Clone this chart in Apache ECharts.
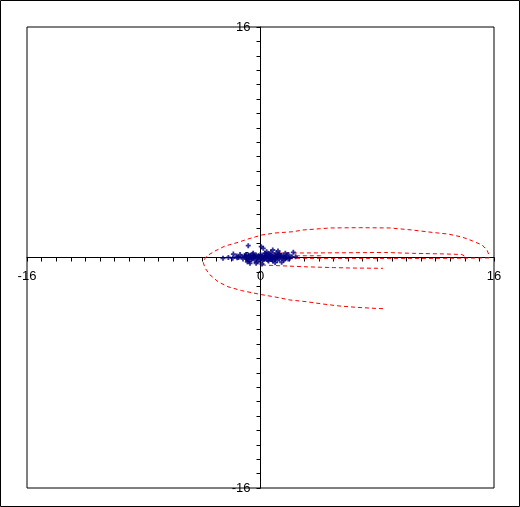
<!DOCTYPE html>
<html>
<head>
<meta charset="utf-8">
<script src="https://cdn.jsdelivr.net/npm/echarts@6/dist/echarts.min.js"></script>
<style>
html,body{margin:0;padding:0;background:#fff;}
#chart{width:520px;height:507px;}
</style>
</head>
<body>
<div id="chart"></div>
<script>
// Axis range / tick labels
const axisMin = -16;
const axisMax = 16;
const labelStep = 16;
const minorPerStep = 16;

// Red dashed trajectories [x, y]
const curveOuter = [
  [8.39,-3.55],[7.85,-3.53],[6.59,-3.46],[5.45,-3.37],[4.28,-3.23],[3.17,-3.07],
  [2.02,-2.95],[1.0,-2.74],[0.08,-2.58],[-1.29,-2.30],[-2.23,-2.03],[-2.91,-1.68],
  [-3.46,-1.21],[-3.80,-0.73],[-3.94,-0.29],[-3.69,0.10],[-3.12,0.45],[-2.43,0.80],
  [-1.61,1.03],[-0.86,1.28],[0.08,1.56],[0.99,1.70],[2.23,1.79],[2.91,1.91],
  [3.87,1.98],[4.76,2.05],[6.8,2.07],[8.87,2.05],[10.38,1.91],[11.96,1.72],
  [12.85,1.63],[13.81,1.42],[14.50,1.16],[15.18,0.87],[15.52,0.52],[15.66,0.17],[15.66,-0.03]
];
const curveReturn = [
  [15.66,-0.03],[12.0,-0.06],[8.0,-0.06],[4.0,-0.06],[1.2,-0.05]
];
const curveLower = [
  [0.1,-0.52],[2.0,-0.60],[3.2,-0.65],[5.0,-0.70],[6.2,-0.73],[8.39,-0.75]
];
const curveUpper = [
  [0.3,0.30],[2.0,0.31],[4.0,0.32],[6.0,0.33],[8.5,0.35],[10.4,0.29],
  [12.5,0.25],[13.8,0.21],[14.0,0.08]
];
const curveShort = [
  [0.5,0.10],[2.0,0.12],[4.2,0.12]
];

// Blue '+' points [x, y]
const scatterPoints = [
  [-0.84,0.82],[0.19,0.64],[0.42,0.40],[0.72,0.36],[0.84,0.52],[-1.86,0.24],
  [-2.57,-0.06],[-0.72,-0.40],[1.45,-0.33],[2.25,0.36],[2.14,0.06],[-1.63,0.10],
  [0.1,-0.45],[-0.3,-0.4],[1.0,-0.35],[0.05,0.75],[-2.2,0.0],[-1.9,-0.05],
  [-1.4,0.2],[1.7,0.3],[1.9,-0.1],[2.4,0.05],[1.2,0.45],[-0.5,0.3],
  [-1.3,0.05],[-1.2,-0.1],[-1.1,0.12],[-1.0,-0.05],[-0.95,0.2],[-0.9,0.0],
  [-0.85,-0.15],[-0.8,0.08],[-0.75,-0.25],[-0.7,0.15],[-0.65,0.02],[-0.6,-0.1],
  [-0.55,0.22],[-0.5,-0.02],[-0.45,0.1],[-0.4,-0.2],[-0.35,0.05],[-0.3,0.18],
  [-0.25,-0.08],[-0.2,0.0],[-0.15,0.12],[-0.1,-0.15],[-0.05,0.05],[0.0,0.2],
  [0.05,-0.05],[0.1,0.1],[0.15,-0.22],[0.2,0.02],[0.25,0.15],[0.3,-0.1],
  [0.35,0.06],[0.4,-0.02],[0.45,0.2],[0.5,-0.18],[0.55,0.08],[0.6,-0.05],
  [0.65,0.14],[0.7,0.0],[0.75,-0.12],[0.8,0.1],[0.85,-0.25],[0.9,0.04],
  [0.95,0.18],[1.0,-0.08],[1.05,0.1],[1.1,-0.02],[1.15,-0.2],[1.2,0.06],
  [1.25,0.2],[1.3,-0.1],[1.35,0.02],[1.4,0.14],[1.5,-0.05],[1.55,0.1],
  [1.6,-0.18],[1.65,0.05],[1.75,-0.02],[1.8,0.12],[1.9,0.2],[2.0,-0.05],
  [-1.5,0.0],[-1.6,-0.02],[-0.9,-0.3],[-0.2,-0.3],[0.3,0.3],[0.6,0.25],
  [1.1,0.3],[-0.6,0.0],[0.2,-0.12],[0.4,0.1],[0.8,-0.15],[1.3,0.25],
  [-1.0,0.1],[0.0,-0.05],[0.55,-0.25],[1.7,-0.1],[-0.4,0.05],[0.95,0.0]
];

const chart = echarts.init(document.getElementById('chart'), null, {renderer:'canvas'});
const font = 'Liberation Sans, Arial, sans-serif';
const gridW = 467, gridH = 461;
function axisCfg(margin, offset){
  return {
    type:'value', min:axisMin, max:axisMax, interval:labelStep,
    offset:offset,
    axisLine:{show:true, onZero:false, lineStyle:{color:'#000', width:1}},
    axisTick:{show:true, length:4, lineStyle:{color:'#000', width:1}},
    minorTick:{show:true, splitNumber:minorPerStep, length:4, lineStyle:{color:'#000', width:1}},
    splitLine:{show:false},
    minorSplitLine:{show:false},
    axisLabel:{color:'#000', fontSize:13, fontFamily:font, margin:margin}
  };
}
const dash = {color:'#ff0000', width:1, type:[4,3]};
function lineSeries(data){
  return {type:'line', data:data, showSymbol:false, symbol:'none', lineStyle:dash, silent:true, animation:false, z:2};
}
const xa = axisCfg(12, -gridH/2); xa.position = 'bottom';
const ya = axisCfg(10, -gridW/2); ya.position = 'left';
chart.setOption({
  animation:false,
  backgroundColor:'#fff',
  grid:{left:27, top:27, width:gridW, height:gridH, show:true, borderColor:'#000', borderWidth:1, containLabel:false},
  xAxis:xa,
  yAxis:ya,
  graphic:[{type:'rect', shape:{x:0.5, y:0.5, width:519, height:506}, style:{fill:'none', stroke:'#000', lineWidth:1}, silent:true}],
  series:[
    lineSeries(curveOuter),
    lineSeries(curveReturn),
    lineSeries(curveLower),
    lineSeries(curveUpper),
    lineSeries(curveShort),
    {type:'scatter', data:scatterPoints, symbol:'path://M0,1.6H1.6V0H3.4V1.6H5V3.4H3.4V5H1.6V3.4H0Z', symbolSize:5,
     itemStyle:{color:'#000080'}, z:3, silent:true}
  ]
});
</script>
</body>
</html>
